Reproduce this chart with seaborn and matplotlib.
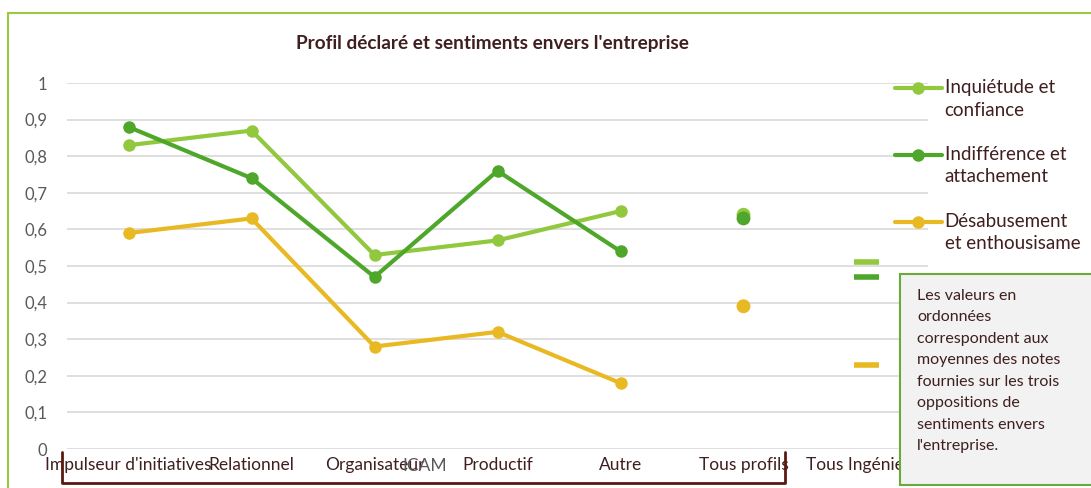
import matplotlib
matplotlib.use('Agg')
import matplotlib.pyplot as plt
import seaborn as sns
import pandas as pd
import numpy as np
from matplotlib.patches import Rectangle
from matplotlib.lines import Line2D
from matplotlib.legend_handler import HandlerLine2D

sns.set_style('white')
plt.rcParams['font.family'] = ['Lato', 'DejaVu Sans']

# données
categories = ["Impulseur d'initiatives", 'Relationnel', 'Organisateur', 'Productif',
              'Autre', 'Tous profils', 'Tous Ingénieurs']
profils = categories[:5]
sentiments = ['Inquiétude et\nconfiance', 'Indifférence et\nattachement', 'Désabusement\net enthousisame']
inquietude = [0.83, 0.87, 0.53, 0.57, 0.65]
indifference = [0.88, 0.74, 0.47, 0.76, 0.54]
desabusement = [0.59, 0.63, 0.28, 0.32, 0.18]
tous_profils = [0.64, 0.63, 0.39]
tous_ingenieurs = [0.51, 0.47, 0.23]
yticks = [0, 0.1, 0.2, 0.3, 0.4, 0.5, 0.6, 0.7, 0.8, 0.9, 1]
ytick_labels = ['0', '0,1', '0,2', '0,3', '0,4', '0,5', '0,6', '0,7', '0,8', '0,9', '1']

couleurs = ['#92c83e', '#4ea72a', '#e8b923']
brun = '#3f1f1f'


# poignée de légende alignée sur la première ligne du texte
class HandlerHaut(HandlerLine2D):
    def create_artists(self, legend, orig_handle, xdescent, ydescent, width, height, fontsize, trans):
        arts = super().create_artists(legend, orig_handle, xdescent, ydescent, width, height, fontsize, trans)
        for a in arts:
            a.set_ydata(np.asarray(a.get_ydata()) + 0.6 * fontsize)
        return arts


rows = []
for s, vals in zip(sentiments, [inquietude, indifference, desabusement]):
    for p, v in zip(profils, vals):
        rows.append({'x': categories.index(p), 'valeur': v, 'sentiment': s})
df = pd.DataFrame(rows)

df_tp = pd.DataFrame({'x': categories.index('Tous profils'), 'valeur': tous_profils, 'sentiment': sentiments})
df_ti = pd.DataFrame({'x': categories.index('Tous Ingénieurs'), 'valeur': tous_ingenieurs, 'sentiment': sentiments})

fig = plt.figure(figsize=(10.91, 4.88), dpi=100)
ax = fig.add_axes([67 / 1091, 1 - 449 / 488, 861 / 1091, 366 / 488])

sns.lineplot(data=df, x='x', y='valeur', hue='sentiment', hue_order=sentiments,
             palette=couleurs, marker='o', markersize=9, markeredgewidth=0,
             linewidth=3, sort=False, ax=ax, legend=True)
sns.scatterplot(data=df_tp, x='x', y='valeur', hue='sentiment', hue_order=sentiments,
                palette=couleurs, s=100, linewidth=0, ax=ax, legend=False, zorder=3)
sns.scatterplot(data=df_ti, x='x', y='valeur', hue='sentiment', hue_order=sentiments,
                palette=couleurs, marker='_', s=300, linewidth=4, ax=ax, legend=False, zorder=3)

ax.set_xlim(-0.5, len(categories) - 0.5)
ax.set_ylim(0, 1)
ax.set_yticks(yticks)
ax.set_yticklabels(ytick_labels, fontsize=12, color='#595959')
ax.set_xticks(range(len(categories)))
ax.set_xticklabels(categories, fontsize=12.5, color=brun)
ax.tick_params(axis='x', pad=6, length=0)
ax.tick_params(axis='y', pad=14, length=0)
ax.grid(axis='y', color='#d9d9d9', linewidth=1.2)
ax.set_axisbelow(True)
for sp in ax.spines.values():
    sp.set_visible(False)
ax.set_xlabel('')
ax.set_ylabel('')

handles, labels = ax.get_legend_handles_labels()
leg = ax.legend(handles, labels, loc='upper left', bbox_to_anchor=(895 / 1091, 1 - 79 / 488),
                bbox_transform=fig.transFigure, frameon=False, borderpad=0, borderaxespad=0,
                fontsize=13.5, handlelength=2.5, handletextpad=0.15, labelspacing=1.45,
                labelcolor=brun, handler_map={Line2D: HandlerHaut()})
for h in leg.legend_handles:
    h.set_linewidth(3)
    h.set_markersize(9)
for t in leg.get_texts():
    t.set_linespacing(1.4)

fig.text(492 / 1091, 1 - 44 / 488, "Profil déclaré et sentiments envers l'entreprise",
         ha='center', va='center', fontsize=13.7, fontweight='bold', color=brun)

# cadre extérieur vert
fig.add_artist(Line2D([8 / 1091, 8 / 1091], [0, 1 - 13 / 488], color='#9bc93f', linewidth=1.5))
fig.add_artist(Line2D([8 / 1091, 1], [1 - 13 / 488, 1 - 13 / 488], color='#9bc93f', linewidth=1.5))

# accolade ICAM
xs = [62 / 1091, 62 / 1091, 785 / 1091, 785 / 1091]
ys = [1 - 452 / 488, 1 - 483 / 488, 1 - 483 / 488, 1 - 452 / 488]
fig.add_artist(Line2D(xs, ys, color='#5a1a12', linewidth=2))
fig.text(425 / 1091, 1 - 466 / 488, 'ICAM', ha='center', va='center', fontsize=12.5, color='#595959')

# encadré
fig.add_artist(Rectangle((900 / 1091, 1 - 485 / 488), 200 / 1091, 211 / 488,
                         transform=fig.transFigure, facecolor='#f2f2f2',
                         edgecolor='#6aaa38', linewidth=1.5, zorder=5))
fig.text(917 / 1091, 1 - 289 / 488,
         "Les valeurs en\nordonnées\ncorrespondent aux\nmoyennes des notes\nfournies sur les trois\noppositions de\nsentiments envers\nl'entreprise.",
         ha='left', va='top', fontsize=11.5, color=brun, linespacing=1.68, zorder=6)

fig.savefig('out.png', dpi=100)
